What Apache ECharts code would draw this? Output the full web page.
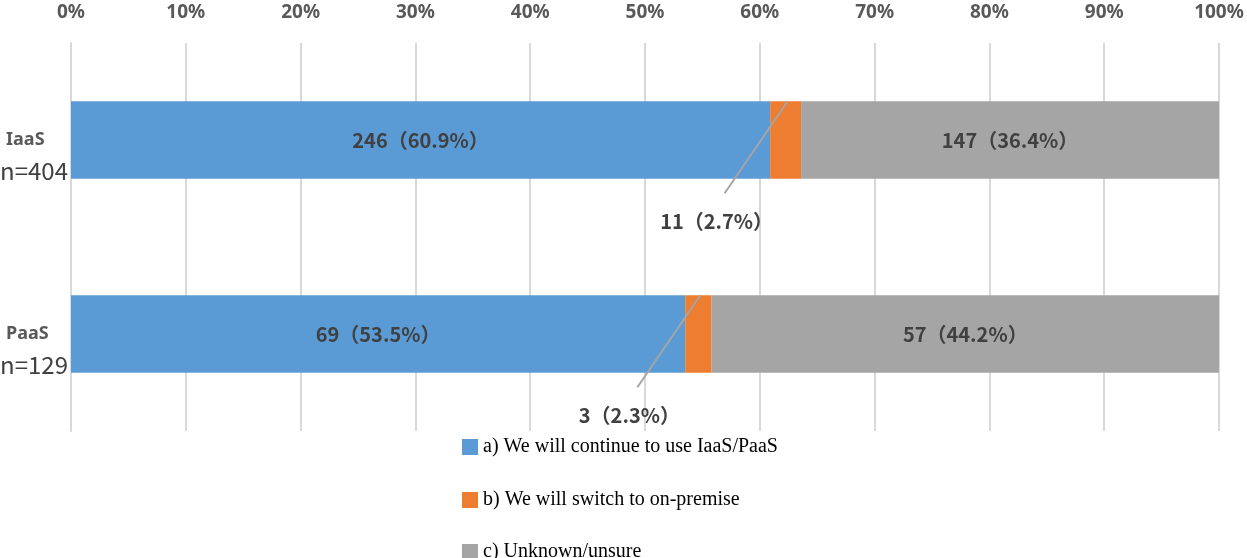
<!DOCTYPE html>
<html><head><meta charset="utf-8">
<script src="https://cdn.jsdelivr.net/npm/echarts@6/dist/echarts.min.js"></script>
<style>html,body{margin:0;padding:0;background:#fff}#c{width:1247px;height:558px}</style>
</head><body><div id="c"></div>
<script>
const categories = ['IaaS', 'PaaS'];
const sampleSizes = ['n=404', 'n=129'];
const seriesNames = ['a) We will continue to use IaaS/PaaS', 'b) We will switch to on-premise', 'c) Unknown/unsure'];
const continuePct = [60.9, 53.5];
const switchPct = [2.7, 2.3];
const unsurePct = [36.4, 44.2];
const continueCnt = [246, 69];
const switchCnt = [11, 3];
const unsureCnt = [147, 57];

const chart = echarts.init(document.getElementById('c'));
const lblFont = {fontFamily: 'Noto Sans CJK JP', fontWeight: 'bold', fontSize: 20, color: '#404040'};
const fmt = (c, v) => c + '（' + v.toFixed(1) + '%）';
function mk(name, vals, cnts, color, showLabel) {
  return {
    name, type: 'bar', stack: 't', barWidth: '40%',
    itemStyle: {color},
    data: vals.map((v, i) => ({value: v, cnt: cnts[i]})),
    label: Object.assign({
      show: showLabel,
      position: 'inside',
      formatter: p => fmt(p.data.cnt, p.value)
    }, lblFont)
  };
}
const legendTops = [432, 485, 537];
chart.setOption({
  animation: false,
  grid: {left: 71, right: 28, top: 43, bottom: 127, containLabel: false, outerBoundsMode: 'none'},
  legend: seriesNames.map((n, i) => ({
    data: [n], orient: 'vertical', left: 457, top: legendTops[i], itemWidth: 16, itemHeight: 16,
    icon: 'rect', selectedMode: false, itemGap: 0,
    textStyle: {fontFamily: 'Liberation Serif', fontSize: 20, color: '#000', padding: [0, 0, 0, 0]}
  })),
  xAxis: {
    type: 'value', position: 'top', min: 0, max: 100, interval: 10,
    axisLine: {show: false}, axisTick: {show: false},
    splitLine: {lineStyle: {color: '#D9D9D9', width: 2}},
    axisLabel: {formatter: v => v + '%', fontFamily: 'Noto Sans', fontWeight: 'bold', fontSize: 19, color: '#595959', margin: 21}
  },
  yAxis: {
    type: 'category', inverse: true, data: categories,
    axisLine: {show: true, lineStyle: {color: '#D9D9D9', width: 2}},
    axisTick: {show: false},
    axisLabel: {
      margin: 3,
      formatter: (v, i) => '{a|' + v + '}\n{b|' + sampleSizes[i] + '}',
      rich: {
        a: {fontFamily: 'Noto Sans', fontWeight: 'bold', fontSize: 18, color: '#595959', lineHeight: 31, align: 'left', padding: [0, 0, 0, 6]},
        b: {fontFamily: 'Noto Sans CJK JP', fontSize: 24, color: '#404040', lineHeight: 31}
      },
      padding: [30, 0, 0, 0]
    }
  },
  series: [
    mk(seriesNames[0], continuePct, continueCnt, '#5B9BD5', true),
    mk(seriesNames[1], switchPct, switchCnt, '#ED7D31', false),
    mk(seriesNames[2], unsurePct, unsureCnt, '#A5A5A5', true),
    {
      type: 'custom', silent: true, z: 5,
      data: categories.map((c, i) => [continuePct[i] + switchPct[i] / 2, i, switchCnt[i], switchPct[i]]),
      renderItem: (params, api) => {
        const pt = api.coord([api.value(0), api.value(1)]);
        const band = api.size([0, 1])[1];
        const top = pt[1] - band * 0.2;
        const x = pt[0] + 2;
        return {
          type: 'group',
          children: [
            {type: 'line', shape: {x1: x, y1: top, x2: x - 63, y2: top + 92},
             style: {stroke: '#A5A5A5', lineWidth: 2}},
            {type: 'text', x: x - 71, y: top + 120,
             style: {text: fmt(api.value(2), api.value(3)), textAlign: 'center', textVerticalAlign: 'middle',
               fill: '#404040', font: 'bold 20px "Noto Sans CJK JP"'}}
          ]
        };
      }
    }
  ]
});
</script></body></html>
